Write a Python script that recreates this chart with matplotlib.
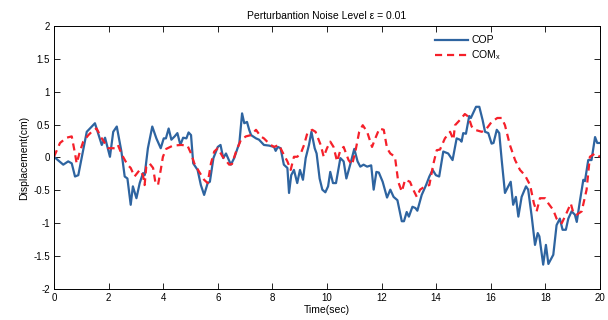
import matplotlib
matplotlib.use("Agg")
import matplotlib.pyplot as plt

plt.rcParams['font.family'] = ['Liberation Sans', 'DejaVu Sans']

t_cop = [0.0, 0.34, 0.52, 0.65, 0.77, 0.89, 1.2, 1.5, 1.75, 1.87, 2.05, 2.17, 2.3, 2.47, 2.59, 2.69,
         2.81, 2.89, 3.02, 3.14, 3.26, 3.32, 3.44, 3.6, 3.75, 3.91, 4.02, 4.1, 4.2, 4.3, 4.42, 4.52,
         4.63, 4.73, 4.85, 4.93, 5.02, 5.1, 5.26, 5.38, 5.5, 5.63, 5.71, 5.84, 6.0, 6.1, 6.2, 6.3,
         6.48, 6.6, 6.79, 6.89, 6.97, 7.07, 7.15, 7.22, 7.4, 7.51, 7.69, 7.88, 8.06, 8.12, 8.2, 8.3,
         8.42, 8.55, 8.61, 8.69, 8.79, 8.91, 9.01, 9.12, 9.22, 9.34, 9.43, 9.55, 9.62, 9.73, 9.83,
         9.94, 10.04, 10.12, 10.22, 10.33, 10.49, 10.61, 10.71, 10.85, 11.0, 11.12, 11.22, 11.34,
         11.47, 11.62, 11.71, 11.81, 11.9, 12.04, 12.2, 12.32, 12.44, 12.58, 12.74, 12.82, 12.92,
         13.0, 13.13, 13.24, 13.31, 13.47, 13.63, 13.75, 13.87, 13.99, 14.11, 14.26, 14.44, 14.6,
         14.75, 14.87, 14.93, 14.99, 15.09, 15.21, 15.27, 15.46, 15.58, 15.7, 15.79, 15.91, 16.03,
         16.1, 16.22, 16.31, 16.4, 16.52, 16.64, 16.73, 16.82, 16.92, 17.01, 17.13, 17.29, 17.37,
         17.5, 17.62, 17.72, 17.78, 17.92, 18.02, 18.11, 18.29, 18.41, 18.53, 18.63, 18.75, 18.84,
         18.96, 19.08, 19.15, 19.27, 19.39, 19.45, 19.57, 19.69, 19.82, 19.9, 20.0]
cop = [0.01, -0.11, -0.06, -0.09, -0.29, -0.27, 0.39, 0.52, 0.19, 0.3, 0.01, 0.39, 0.47, 0.09, -0.29, -0.32,
       -0.72, -0.44, -0.62, -0.39, -0.24, -0.27, 0.14, 0.47, 0.29, 0.14, 0.29, 0.29, 0.44, 0.27, 0.32, 0.37,
       0.19, 0.3, 0.29, 0.38, 0.34, -0.09, -0.19, -0.42, -0.57, -0.39, -0.37, -0.01, 0.16, 0.19, -0.01, 0.06,
       -0.11, -0.01, 0.22, 0.67, 0.52, 0.54, 0.42, 0.34, 0.29, 0.27, 0.19, 0.18, 0.16, 0.1, 0.16, 0.14,
       -0.11, -0.16, -0.54, -0.27, -0.19, -0.39, -0.19, -0.34, -0.01, 0.19, 0.39, 0.14, 0.06, -0.32, -0.49,
       -0.53, -0.44, -0.22, -0.39, -0.39, -0.01, -0.06, -0.32, -0.11, 0.13, -0.06, -0.14, -0.11,
       -0.14, -0.12, -0.49, -0.22, -0.23, -0.37, -0.61, -0.49, -0.6, -0.65, -0.97, -0.97, -0.83,
       -0.9, -0.75, -0.77, -0.81, -0.57, -0.42, -0.29, -0.19, -0.27, -0.29, 0.09, 0.06, -0.04,
       0.29, 0.27, 0.24, 0.37, 0.36, 0.63, 0.6, 0.77, 0.77, 0.57, 0.39, 0.37, 0.21,
       0.22, 0.42, 0.37, -0.04, -0.54, -0.44, -0.37, -0.72, -0.6, -0.9, -0.6, -0.44, -0.49,
       -0.9, -1.33, -1.15, -1.2, -1.63, -1.33, -1.62, -1.48, -1.03, -0.93, -1.1, -1.1, -0.93,
       -0.82, -0.87, -0.98, -0.65, -0.34, -0.36, -0.04, -0.04, 0.31, 0.22, 0.22]

t_com = [0.0, 0.22, 0.46, 0.65, 0.77, 0.83, 0.95, 1.07, 1.26, 1.38, 1.56, 1.75, 1.99, 2.23, 2.34, 2.49,
         2.69, 2.81, 2.95, 3.14, 3.26, 3.32, 3.38, 3.5, 3.63, 3.71, 3.81, 3.91, 3.99, 4.11, 4.36, 4.66,
         4.89, 5.02, 5.14, 5.32, 5.5, 5.63, 5.75, 5.87, 6.0, 6.18, 6.42, 6.52, 6.67, 6.85, 7.03, 7.22,
         7.4, 7.57, 7.69, 7.81, 7.94, 8.06, 8.24, 8.42, 8.55, 8.67, 8.79, 8.91, 9.04, 9.16, 9.28, 9.46,
         9.58, 9.77, 9.88, 10.0, 10.12, 10.24, 10.37, 10.49, 10.61, 10.79, 10.92, 11.04, 11.18, 11.31,
         11.47, 11.65, 11.77, 11.92, 12.08, 12.2, 12.32, 12.49, 12.61, 12.74, 12.86, 13.04, 13.16,
         13.29, 13.41, 13.59, 13.75, 13.89, 14.02, 14.14, 14.32, 14.51, 14.63, 14.69, 14.87, 15.05,
         15.18, 15.3, 15.42, 15.67, 15.85, 16.03, 16.24, 16.4, 16.52, 16.7, 16.89, 17.07, 17.25,
         17.44, 17.58, 17.68, 17.8, 17.99, 18.11, 18.29, 18.41, 18.6, 18.75, 18.93, 19.03, 19.15,
         19.33, 19.51, 19.63, 19.82, 20.0]
com = [0.01, 0.22, 0.3, 0.32, 0.06, -0.09, 0.09, 0.24, 0.34, 0.39, 0.44, 0.29, 0.14, 0.14, 0.19, 0.04,
       -0.11, -0.16, -0.29, -0.19, -0.27, -0.42, -0.14, -0.09, -0.16, -0.37, -0.42, -0.19, 0.01, 0.13, 0.18, 0.19,
       0.18, 0.06, -0.09, -0.22, -0.34, -0.39, -0.09, 0.09, 0.14, 0.01, -0.11, -0.1, 0.09, 0.27, 0.32, 0.34,
       0.42, 0.32, 0.29, 0.24, 0.19, 0.16, 0.19, 0.04, -0.06, -0.19, 0.01, 0.01, 0.06, 0.19, 0.37, 0.42,
       0.39, 0.19, 0.01, 0.14, 0.24, 0.16, -0.06, 0.11, 0.16, -0.04, -0.11, 0.09, 0.39, 0.49,
       0.39, 0.16, 0.29, 0.44, 0.42, 0.14, 0.06, 0.01, -0.37, -0.52, -0.34, -0.37, -0.49,
       -0.6, -0.49, -0.44, -0.42, -0.11, 0.11, 0.12, 0.29, 0.39, 0.27, 0.49, 0.57, 0.66,
       0.62, 0.47, 0.42, 0.39, 0.44, 0.54, 0.6, 0.6, 0.49, 0.19, -0.04, -0.19, -0.27,
       -0.42, -0.7, -0.82, -0.62, -0.62, -0.7, -0.8, -0.93, -1.0, -0.87, -0.7, -0.85, -0.87,
       -0.82, -0.49, 0.01, 0.06, 0.01]

x_ticks = list(range(0, 21, 2))
y_ticks = [-2, -1.5, -1, -0.5, 0, 0.5, 1, 1.5, 2]
y_labels = ['-2', '-1.5', '-1', '-0.5', '0', '0.5', '1', '1.5', '2']

fig = plt.figure(figsize=(6.08, 3.2), dpi=100)
ax = fig.add_axes([0.0888, 0.097, 0.898, 0.822])

ax.plot(t_cop, cop, color='#2e64a0', lw=1.6, label='COP')
ax.plot(t_com, com, color='#f5202a', lw=1.6, ls=(0, (3.2, 2.2)), label=r'COM$\mathregular{_x}$')

ax.set_xlim(0, 20)
ax.set_ylim(-2, 2)
ax.set_xticks(x_ticks)
ax.set_yticks(y_ticks)
ax.set_yticklabels(y_labels)
ax.tick_params(direction='in', top=True, right=True, labelsize=7, length=4, width=0.6, pad=3)
for s in ax.spines.values():
    s.set_linewidth(0.7)

ax.set_title('Perturbantion Noise Level ε = 0.01', fontsize=7.5, pad=5)
ax.set_xlabel('Time(sec)', fontsize=7.5, labelpad=1)
ax.set_ylabel('Displacement(cm)', fontsize=7.5, labelpad=3)

ax.legend(loc='upper left', bbox_to_anchor=(0.68, 1.0), frameon=False, fontsize=7.5,
          handlelength=3.2, handletextpad=0.3, labelspacing=0.3)

fig.savefig('out.png', dpi=100)
